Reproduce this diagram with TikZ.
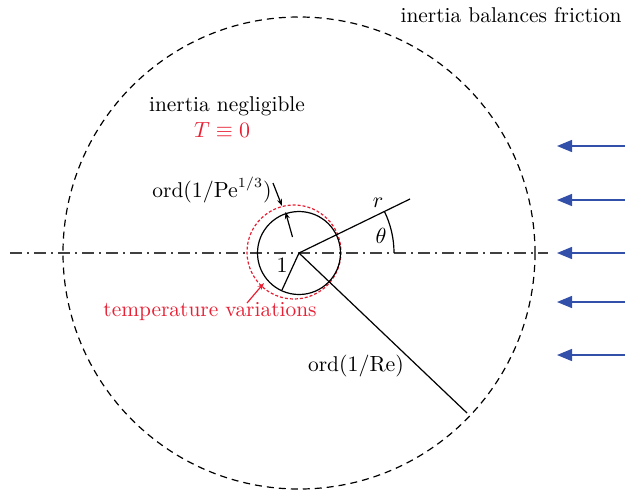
\documentclass[tikz,border=0pt]{standalone}
\usetikzlibrary{arrows.meta,calc}
\definecolor{tred}{RGB}{232,32,52}
\definecolor{fblue}{RGB}{50,80,170}
\begin{document}
\begin{tikzpicture}[x=0.5pt,y=-0.5pt,
  thinline/.style={line width=0.6pt},
  lbl/.style={inner sep=0pt, font=\fontsize{10.7}{13}\selectfont},
  flow/.style={fblue, line width=0.7pt, -{Triangle[length=7.5pt,width=6pt]}},
  small/.style={thinline,-{Stealth[length=3.5pt,width=2.5pt]}}]
\useasboundingbox (0,0) rectangle (625,489);
\coordinate (c) at (299,253);
% axis
\coordinate (axL) at (10,253);
\coordinate (axR) at (548,253);
\draw[thinline, dash pattern=on 6pt off 2.5pt on 1pt off 2.5pt, black!75] (axL) -- (axR);
% outer dashed circle
\draw[thinline, dash pattern=on 3.5pt off 2.5pt] (c) circle[radius=236];
% red boundary layer
\draw[tred, thinline, dash pattern=on 1.5pt off 1pt] (294,252) circle[radius=47];
% cylinder
\draw[thinline] (c) circle[radius=41.5];
% r line
\coordinate (rend) at (410,199);
\draw[thinline] (c) -- (rend);
\draw[thinline] ($(c)+(95,0)$) arc[start angle=0, end angle=-26, radius=95];
\node[lbl] (rl) at (378,203) {$r$};
\node[lbl] (th) at (381,236) {$\theta$};
% Re line
\coordinate (reend) at (467,413);
\draw[thinline] (c) -- (reend);
\node[lbl] (re) at (356,366) {ord$(1/\mathrm{Re})$};
% radius 1
\coordinate (oneend) at (282,290);
\draw[thinline] (c) -- (oneend);
\node[lbl] (one) at (282,265) {$1$};
% Pe arrows
\coordinate (pa) at (292.5,237);
\coordinate (pb) at (285.5,212);
\draw[small] (pa) -- (pb);
\node[lbl] (pe) at (212,190) {ord$(1/\mathrm{Pe}^{1/3})$};
\coordinate (qa) at (273,183);
\coordinate (qb) at (282,206);
\draw[small] (qa) -- (qb);
% temperature variations
\node[lbl, tred] (tv) at (210,312) {temperature variations};
\coordinate (ta) at (247,303);
\coordinate (tb) at (264,283);
\draw[small, tred] (ta) -- (tb);
% texts
\node[lbl] (ibf) at (511,15) {inertia balances friction};
\node[lbl] (ineg) at (227,106) {inertia negligible};
\node[lbl, tred] (T0) at (222,130) {$T\equiv0$};
% flow arrows
\foreach \y/\n in {146/a,200/b,253/c,302/d,355/e}{
  \coordinate (f\n s) at (625,\y);
  \coordinate (f\n e) at (557,\y);
  \draw[flow] (f\n s) -- (f\n e);
}
\end{tikzpicture}
\end{document}
